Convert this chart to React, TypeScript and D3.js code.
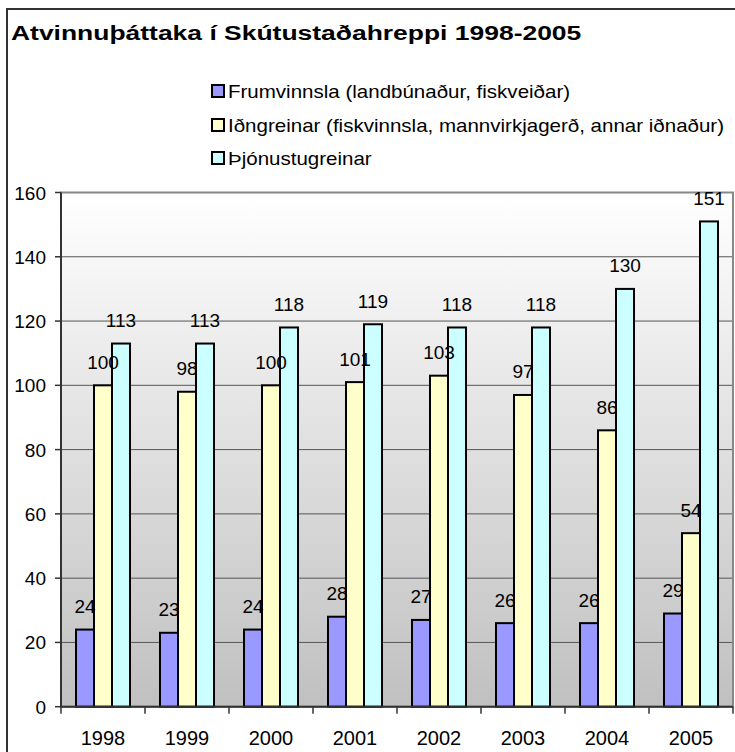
import React from 'react'
import * as d3 from 'd3'

// data
const years = ['1998', '1999', '2000', '2001', '2002', '2003', '2004', '2005']
const seriesNames = [
  'Frumvinnsla (landbúnaður, fiskveiðar)',
  'Iðngreinar (fiskvinnsla, mannvirkjagerð, annar iðnaður)',
  'Þjónustugreinar',
]
const frumvinnsla = [24, 23, 24, 28, 27, 26, 26, 29]
const idngreinar = [100, 98, 100, 101, 103, 97, 86, 54]
const thjonusta = [113, 113, 118, 119, 118, 118, 130, 151]
const yTicks = [0, 20, 40, 60, 80, 100, 120, 140, 160]

const colors = ['#9999ff', '#ffffcc', '#ccffff']
const font = 'Arial, "Liberation Sans", sans-serif'

export default function App() {
  const W = 735
  const H = 752
  const plot = { left: 61, right: 733, top: 192.5, bottom: 706.7 }
  const allSeries = [frumvinnsla, idngreinar, thjonusta]

  const x0 = d3.scaleBand().domain(years).range([plot.left, plot.right]).padding(0)
  const x1 = d3.scaleBand().domain(['0', '1', '2']).range([15, 69]).padding(0)
  const y = d3.scaleLinear().domain([0, 160]).range([plot.bottom, plot.top])

  const barX = (si: number, i: number) => x0(years[i])! + x1(String(si))!

  return (
    <svg width={W} height={H} style={{ position: 'absolute', left: 0, top: 0 }}>
      <defs>
        <linearGradient id="bg" x1="0" y1="0" x2="0" y2="1">
          <stop offset="0" stopColor="#ffffff" />
          <stop offset="1" stopColor="#c0c0c0" />
        </linearGradient>
      </defs>
      <rect x={0} y={0} width={W} height={H} fill="#fff" />
      {/* chart frame, runs off the right and bottom edges */}
      <rect x={7} y={9} width={W + 20} height={H + 20} fill="none" stroke="#333" strokeWidth={2} />

      {/* the source text is a bit wider than plain Arial, so stretch it sideways */}
      <text
        transform="translate(11, 40) scale(1.26, 1)"
        fontFamily={font}
        fontWeight="bold"
        fontSize={21}
        fill="#000"
      >
        Atvinnuþáttaka í Skútustaðahreppi 1998-2005
      </text>

      {/* legend */}
      {seriesNames.map((name, i) => (
        <g key={name} transform={`translate(0, ${[91, 125, 158][i]})`}>
          <rect x={212} y={-6} width={12} height={12} fill={colors[i]} stroke="#000" strokeWidth={2} />
          <text
            transform="translate(228, 6.5) scale(1.14, 1)"
            fontFamily={font}
            fontSize={18}
            fill="#000"
          >
            {name}
          </text>
        </g>
      ))}

      {/* plot area */}
      <rect
        x={plot.left}
        y={plot.top}
        width={plot.right - plot.left}
        height={plot.bottom - plot.top}
        fill="url(#bg)"
      />
      {yTicks.slice(1, -1).map((t) => (
        <line key={t} x1={plot.left} x2={plot.right} y1={y(t)} y2={y(t)} stroke="#555" strokeWidth={1} />
      ))}
      <rect
        x={plot.left}
        y={plot.top}
        width={plot.right - plot.left}
        height={plot.bottom - plot.top}
        fill="none"
        stroke="#888"
        strokeWidth={2}
      />

      {/* bars */}
      {allSeries.map((vals, si) => (
        <g key={si}>
          {vals.map((v, i) => (
            <rect
              key={i}
              x={barX(si, i)}
              y={y(v)}
              width={x1.bandwidth()}
              height={y(0) - y(v)}
              fill={colors[si]}
              stroke="#000"
              strokeWidth={2}
            />
          ))}
        </g>
      ))}

      {/* value labels */}
      {allSeries.map((vals, si) => (
        <g key={'l' + si}>
          {vals.map((v, i) => (
            <text
              key={i}
              x={barX(si, i) + x1.bandwidth() / 2}
              y={y(v) - 16.5}
              textAnchor="middle"
              fontFamily={font}
              fontSize={19}
              fill="#000"
            >
              {v}
            </text>
          ))}
        </g>
      ))}

      {/* y axis */}
      <line x1={plot.left} x2={plot.left} y1={plot.top} y2={plot.bottom} stroke="#333" strokeWidth={2} />
      {yTicks.map((t) => (
        <g key={t}>
          <line x1={55} x2={plot.left} y1={y(t)} y2={y(t)} stroke="#333" strokeWidth={1.5} />
          <text x={46} y={y(t) + 7} textAnchor="end" fontFamily={font} fontSize={19} fill="#000">
            {t}
          </text>
        </g>
      ))}

      {/* x axis */}
      <line x1={plot.left} x2={plot.right} y1={plot.bottom} y2={plot.bottom} stroke="#333" strokeWidth={2} />
      {years.map((yr) => (
        <g key={yr}>
          <line x1={x0(yr)!} x2={x0(yr)!} y1={plot.bottom} y2={plot.bottom + 7} stroke="#333" strokeWidth={1.5} />
          <text
            x={x0(yr)! + x0.bandwidth() / 2}
            y={745}
            textAnchor="middle"
            fontFamily={font}
            fontSize={20}
            fill="#000"
          >
            {yr}
          </text>
        </g>
      ))}
      <line x1={plot.right} x2={plot.right} y1={plot.bottom} y2={plot.bottom + 7} stroke="#333" strokeWidth={1.5} />
    </svg>
  )
}
